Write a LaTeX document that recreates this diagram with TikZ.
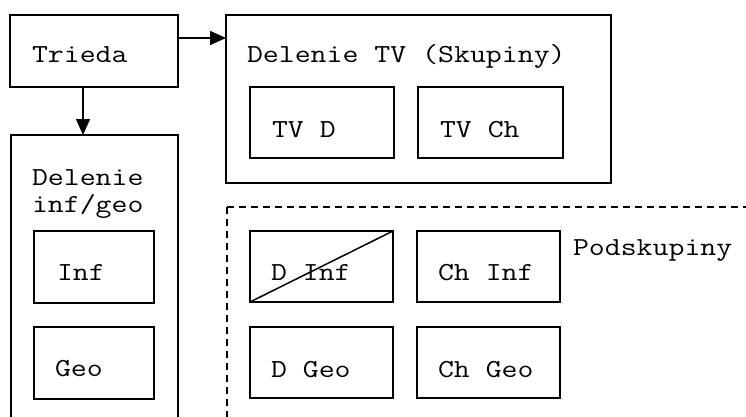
\documentclass[tikz,border=0pt]{standalone}
\usepackage{fontspec}
\setmonofont[FakeStretch=1.19]{Latin Modern Mono}
\usetikzlibrary{arrows.meta,calc}
\begin{document}
\begin{tikzpicture}[x=1pt,y=-1pt,
 box/.style={draw,line width=1.5pt,rectangle,inner sep=0pt,outer sep=0pt,anchor=north west},
 lbl/.style={anchor=base west,inner sep=0pt,outer sep=0pt,font=\ttfamily\fontsize{26}{27}\selectfont},
 arr/.style={line width=1.5pt,-{Triangle[length=16pt,width=14pt]}},
 dashline/.style={line width=1.5pt,dash pattern=on 7pt off 5pt}]
\clip (0,0) rectangle (746,417);
\fill[white] (0,0) rectangle (746,417);
% boxes
\node[box,minimum width=168pt,minimum height=72pt] (trieda) at (10,15) {};
\node[box,minimum width=385pt,minimum height=168pt] (tv) at (226,15) {};
\node[box,minimum width=144pt,minimum height=71pt] (tvd) at (250,87) {};
\node[box,minimum width=145pt,minimum height=71pt] (tvch) at (418,87) {};
\node[box,minimum width=167pt,minimum height=300pt] (infgeo) at (11,135) {};
\node[box,minimum width=120pt,minimum height=72pt] (inf) at (34,231) {};
\node[box,minimum width=120pt,minimum height=72pt] (geo) at (34,327) {};
\node[box,minimum width=143pt,minimum height=71pt] (dinf) at (250,231) {};
\node[box,minimum width=143pt,minimum height=71pt] (chinf) at (417,231) {};
\node[box,minimum width=143pt,minimum height=71pt] (dgeo) at (250,327) {};
\node[box,minimum width=143pt,minimum height=71pt] (chgeo) at (417,327) {};
% diagonal
\draw[line width=1.5pt] (dinf.south west) -- (dinf.north east);
% dashed region
\coordinate (dsTL) at (227,207);
\coordinate (dsTR) at (760,207);
\coordinate (dsBL) at (227,430);
\draw[dashline] (dsTL) -- (dsTR);
\draw[dashline] (dsTL) -- (dsBL);
% arrows
\draw[arr] ([yshift=-23pt]trieda.north east) -- ([yshift=-23pt]tv.north west);
\draw[arr] ([xshift=-11pt]trieda.south) -- ([xshift=-11.5pt]infgeo.north);
% labels
\node[lbl] (tTrieda) at (32,63) {Trieda};
\node[lbl] (tTV) at (247,63) {Delenie TV (Skupiny)};
\node[lbl] (tTVD) at (272,137) {TV D};
\node[lbl] (tTVCh) at (440,137) {TV Ch};
\node[lbl] (tDel) at (32,185) {Delenie};
\node[lbl] (tIG) at (32,212) {inf/geo};
\node[lbl] (tInf) at (57,280) {Inf};
\node[lbl] (tGeo) at (55,376) {Geo};
\node[lbl] (tDInf) at (271,280) {D Inf};
\node[lbl] (tChInf) at (438,280) {Ch Inf};
\node[lbl] (tDGeo) at (271,377) {D Geo};
\node[lbl] (tChGeo) at (438,377) {Ch Geo};
\node[lbl] (tPod) at (573,255) {Podskupiny};
\end{tikzpicture}
\end{document}
